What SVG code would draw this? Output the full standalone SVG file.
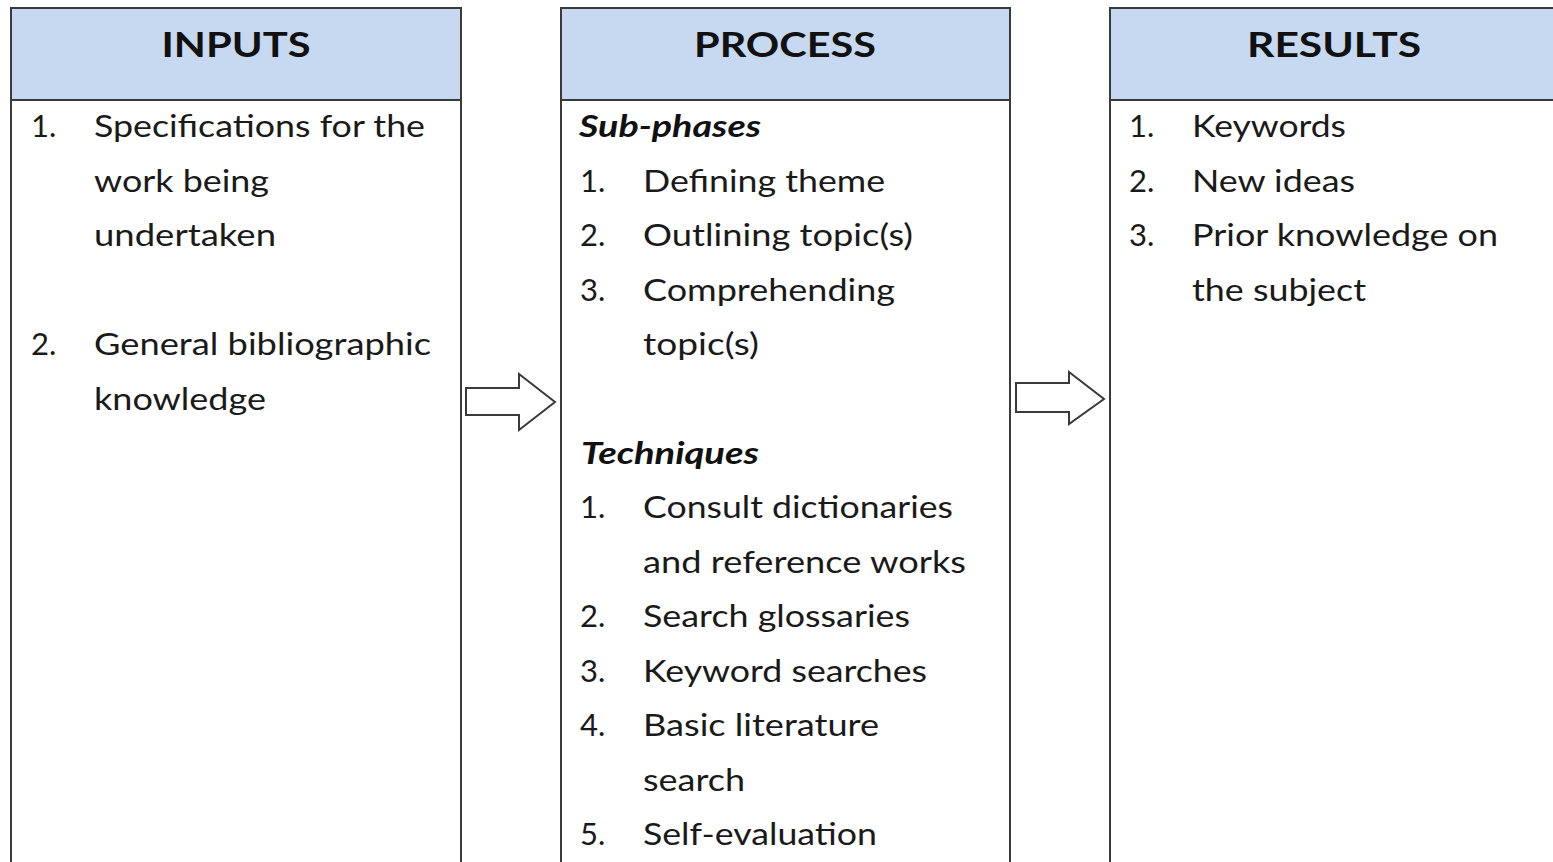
<svg xmlns="http://www.w3.org/2000/svg" width="1553" height="862" viewBox="0 0 1553 862">
<defs>
<style>
.box{fill:#ffffff;stroke:#3a3a3a;stroke-width:2}
.hdr{fill:#c6d9f1;stroke:#3a3a3a;stroke-width:2}
.ht{font-family:Lato,"Liberation Sans",sans-serif;font-weight:bold;font-size:35px;fill:#111;text-anchor:middle}
.t{font-family:Lato,"Liberation Sans",sans-serif;font-size:31px;fill:#1a1a1a}
.bi{font-family:Lato,"Liberation Sans",sans-serif;font-size:31px;font-weight:bold;font-style:italic;fill:#111}
.arrow{fill:#ffffff;stroke:#3a3a3a;stroke-width:2;stroke-linejoin:miter}
</style>
</defs>
<rect width="1553" height="862" fill="#ffffff"/>

<g id="inputs">
<rect class="box" x="11" y="8" width="450" height="870"/>
<rect class="hdr" x="11" y="8" width="450" height="92"/>
<text class="ht" x="236" y="57" textLength="149" lengthAdjust="spacingAndGlyphs">INPUTS</text>
<text class="t" x="31" y="137">1.</text>
<text class="t" x="94" y="137" textLength="331" lengthAdjust="spacingAndGlyphs">Specifications for the</text>
<text class="t" x="94" y="192" textLength="175" lengthAdjust="spacingAndGlyphs">work being</text>
<text class="t" x="94" y="246" textLength="182" lengthAdjust="spacingAndGlyphs">undertaken</text>
<text class="t" x="31" y="355">2.</text>
<text class="t" x="94" y="355" textLength="337" lengthAdjust="spacingAndGlyphs">General bibliographic</text>
<text class="t" x="94" y="410" textLength="172" lengthAdjust="spacingAndGlyphs">knowledge</text>
</g>

<g id="process">
<rect class="box" x="561" y="8" width="449" height="870"/>
<rect class="hdr" x="561" y="8" width="449" height="92"/>
<text class="ht" x="785" y="57" textLength="182" lengthAdjust="spacingAndGlyphs">PROCESS</text>
<text class="bi" x="579" y="137" textLength="182" lengthAdjust="spacingAndGlyphs">Sub-phases</text>
<text class="t" x="580" y="192">1.</text>
<text class="t" x="643" y="192" textLength="242" lengthAdjust="spacingAndGlyphs">Defining theme</text>
<text class="t" x="580" y="246">2.</text>
<text class="t" x="643" y="246" textLength="270" lengthAdjust="spacingAndGlyphs">Outlining topic(s)</text>
<text class="t" x="580" y="301">3.</text>
<text class="t" x="643" y="301" textLength="252" lengthAdjust="spacingAndGlyphs">Comprehending</text>
<text class="t" x="643" y="355" textLength="116" lengthAdjust="spacingAndGlyphs">topic(s)</text>
<text class="bi" x="581" y="464" textLength="178" lengthAdjust="spacingAndGlyphs">Techniques</text>
<text class="t" x="580" y="518">1.</text>
<text class="t" x="643" y="518" textLength="310" lengthAdjust="spacingAndGlyphs">Consult dictionaries</text>
<text class="t" x="643" y="573" textLength="323" lengthAdjust="spacingAndGlyphs">and reference works</text>
<text class="t" x="580" y="627">2.</text>
<text class="t" x="643" y="627" textLength="267" lengthAdjust="spacingAndGlyphs">Search glossaries</text>
<text class="t" x="580" y="682">3.</text>
<text class="t" x="643" y="682" textLength="284" lengthAdjust="spacingAndGlyphs">Keyword searches</text>
<text class="t" x="580" y="736">4.</text>
<text class="t" x="643" y="736" textLength="236" lengthAdjust="spacingAndGlyphs">Basic literature</text>
<text class="t" x="643" y="791" textLength="102" lengthAdjust="spacingAndGlyphs">search</text>
<text class="t" x="580" y="845">5.</text>
<text class="t" x="643" y="845" textLength="234" lengthAdjust="spacingAndGlyphs">Self-evaluation</text>
</g>

<g id="results">
<rect class="box" x="1110" y="8" width="449" height="870"/>
<rect class="hdr" x="1110" y="8" width="449" height="92"/>
<text class="ht" x="1334" y="57" textLength="174" lengthAdjust="spacingAndGlyphs">RESULTS</text>
<text class="t" x="1129" y="137">1.</text>
<text class="t" x="1192" y="137" textLength="154" lengthAdjust="spacingAndGlyphs">Keywords</text>
<text class="t" x="1129" y="192">2.</text>
<text class="t" x="1192" y="192" textLength="163" lengthAdjust="spacingAndGlyphs">New ideas</text>
<text class="t" x="1129" y="246">3.</text>
<text class="t" x="1192" y="246" textLength="306" lengthAdjust="spacingAndGlyphs">Prior knowledge on</text>
<text class="t" x="1192" y="301" textLength="174" lengthAdjust="spacingAndGlyphs">the subject</text>
</g>

<g id="connectors">
<polygon class="arrow" points="466,388 519,388 519,374 555,402 519,430 519,415 466,415"/>
<polygon class="arrow" points="1016,383 1069,383 1069,372 1104,399 1069,424 1069,412 1016,412"/>
</g>
</svg>
